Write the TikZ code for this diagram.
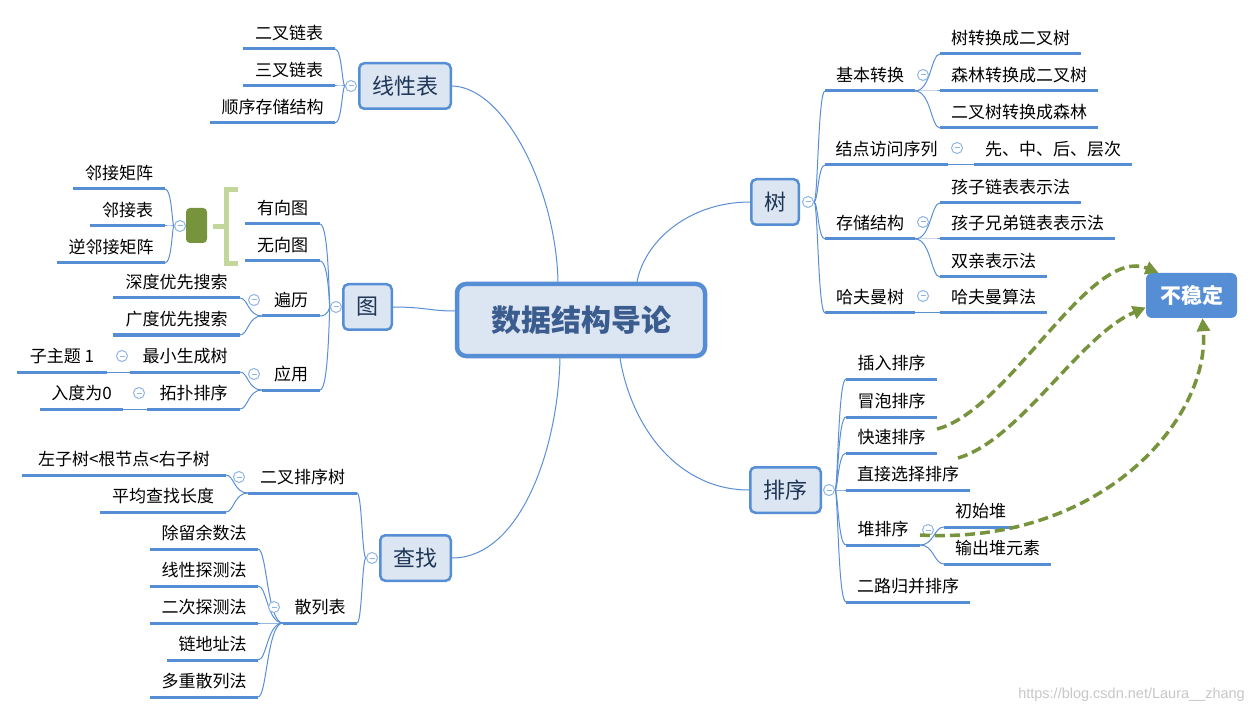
\documentclass[tikz,border=0pt]{standalone}
\usepackage{fontspec}
\setmainfont{Noto Sans CJK SC}
\newfontfamily\wmfont{Liberation Sans}
\usetikzlibrary{arrows.meta,calc}
\pgfdeclarelayer{bg}
\pgfdeclarelayer{paper}
\pgfsetlayers{paper,bg,main}
\definecolor{lineblue}{HTML}{5B8FD5}
\definecolor{ulblue}{HTML}{558ED5}
\definecolor{boxfill}{HTML}{DCE6F2}
\definecolor{navy}{HTML}{1F3556}
\definecolor{titleblue}{HTML}{3B5C8F}
\definecolor{olive}{HTML}{77933C}
\definecolor{lightgreen}{HTML}{C3D69B}
\definecolor{circblue}{HTML}{8EB4E3}
\tikzset{
  conn/.style={draw=lineblue, line width=1pt},
  uline/.style={draw=ulblue, line width=3pt},
  subtxt/.style={inner sep=0pt, font=\fontsize{17}{20}\selectfont, text=black},
  topicbox/.style={draw=ulblue, line width=2.5pt, fill=boxfill, rounded corners=5pt,
    inner sep=0pt, text=navy, font=\fontsize{22}{26}\selectfont, minimum height=45.5pt},
  colc/.style={circle, draw=circblue, fill=white, line width=1pt, minimum size=11pt, inner sep=0pt,
    path picture={\draw[circblue, line width=1pt] ([xshift=3pt]path picture bounding box.west) -- ([xshift=-3pt]path picture bounding box.east);}},
  unst/.style={draw=olive, line width=3.5pt, dash pattern=on 10pt off 5pt, -{Triangle[length=13pt,width=13pt]}},
}
% name, xL, xR, y(underline), text
\newcommand\subt[5]{%
  \coordinate (#1L) at (#2,-#4);
  \coordinate (#1R) at (#3,-#4);
  \draw[uline] (#1L) -- (#1R);
  \node[subtxt] (#1) at ({(#2+#3)/2},{16-#4}) {#5};
}
\newcommand\cc[3]{\node[colc] (#1) at (#2,-#3) {};}
\newcommand\lnk[3]{\draw[conn] (#1) .. controls (#1 -| #3) and (#2 -| #3) .. (#2);}
\begin{document}
\begin{tikzpicture}[x=1pt,y=1pt]
\useasboundingbox (0,0) rectangle (1254,-714);
\begin{pgfonlayer}{paper}
\fill[white] (0,0) rectangle (1254,-714);
\end{pgfonlayer}

% root and topics
\node[draw=ulblue, line width=4.5pt, fill=boxfill, rounded corners=9pt, minimum width=248pt,
  minimum height=72pt, inner sep=0pt, text=titleblue, font=\fontsize{30}{34}\selectfont\bfseries]
  (root) at (581,-320) {数据结构导论};
\node[topicbox, minimum width=91.5pt] (lin) at (405,-86) {线性表};
\node[topicbox, minimum width=48.5pt] (tu) at (367.5,-307) {图};
\node[topicbox, minimum width=70.5pt] (cz) at (415.5,-558) {查找};
\node[topicbox, minimum width=47.5pt] (shu) at (775,-202) {树};
\node[topicbox, minimum width=70.5pt] (px) at (785.5,-490) {排序};

% trunks
\coordinate (tLin) at (342,0);
\coordinate (tTu) at (329,0);
\coordinate (tSum) at (172,0);
\coordinate (tBl) at (248,0);
\coordinate (tCz) at (362,0);
\coordinate (tZ1) at (234,0);
\coordinate (tZ2) at (267,0);
\coordinate (tShu) at (818,0);
\coordinate (tS1) at (931,0);
\coordinate (tPx) at (838,0);
\coordinate (tP5) at (934,0);

% 线性表
\cc{cLin}{351}{86}
\subt{l1}{243}{335}{49}{二叉链表}
\subt{l2}{243}{335}{86}{三叉链表}
\subt{l3}{210}{335}{123}{顺序存储结构}

% 图
\cc{cTu}{336}{307}
\subt{t1}{245}{320}{224}{有向图}
\subt{t2}{245}{320}{261}{无向图}
\subt{t3}{262}{320}{316}{遍历}
\subt{t4}{262}{320}{390}{应用}
\node[fill=olive, rounded corners=4pt, minimum width=21pt, minimum height=35pt, inner sep=0pt] (sumg) at (196.5,-225.5) {};
\draw[lightgreen, line width=5pt] (238,-190) -- (226,-190) -- (226,-264) -- (238,-264);
\draw[lightgreen, line width=5pt] (226,-227) -- (213,-227);
\cc{cSum}{180}{226}
\subt{g1}{73}{165}{189}{邻接矩阵}
\subt{g2}{90}{165}{226}{邻接表}
\subt{g3}{57}{165}{263}{逆邻接矩阵}
\cc{cBl}{254}{300}
\subt{b1}{113}{240}{298}{深度优先搜索}
\subt{b2}{113}{240}{335}{广度优先搜索}
\cc{cYy}{254}{374}
\subt{y1}{130}{240}{372}{最小生成树}
\subt{y2}{147}{240}{409}{拓扑排序}
\cc{cY1}{122}{356}
\subt{y11}{17}{107}{372}{子主题 1}
\cc{cY2}{139}{393}
\subt{y21}{40}{123}{409}{入度为0}

% 查找
\cc{cCz}{372}{558}
\subt{z1}{248}{357}{493}{二叉排序树}
\subt{z2}{283}{357}{623}{散列表}
\cc{cZ1}{239}{477}
\subt{z11}{22}{226}{475}{左子树<根节点<右子树}
\subt{z12}{100}{226}{512}{平均查找长度}
\cc{cZ2}{274}{607}
\subt{z21}{150}{258}{549}{除留余数法}
\subt{z22}{150}{258}{586}{线性探测法}
\subt{z23}{150}{258}{623}{二次探测法}
\subt{z24}{167}{258}{660}{链地址法}
\subt{z25}{150}{258}{697}{多重散列法}

% 树
\cc{cShu}{808}{202}
\subt{s1}{825}{915}{91}{基本转换}
\subt{s2}{825}{948}{165}{结点访问序列}
\subt{s3}{825}{915}{239}{存储结构}
\subt{s4}{825}{915}{313}{哈夫曼树}
\cc{cS1}{923}{75}
\subt{s11}{940}{1081}{54}{树转换成二叉树}
\subt{s12}{940}{1098}{91}{森林转换成二叉树}
\subt{s13}{940}{1098}{128}{二叉树转换成森林}
\cc{cS2}{957}{148}
\subt{s21}{974}{1132}{165}{先、中、后、层次}
\cc{cS3}{923}{222}
\subt{s31}{940}{1081}{203}{孩子链表表示法}
\subt{s32}{940}{1115}{239}{孩子兄弟链表表示法}
\subt{s33}{940}{1047}{277}{双亲表示法}
\cc{cS4}{923}{296}
\subt{s41}{940}{1047}{313}{哈夫曼算法}

% 排序
\cc{cPx}{829}{490}
\subt{p1}{846}{937}{379}{插入排序}
\subt{p2}{846}{937}{417}{冒泡排序}
\subt{p3}{846}{937}{453}{快速排序}
\subt{p4}{846}{970}{490}{直接选择排序}
\subt{p5}{846}{920}{545}{堆排序}
\subt{p6}{846}{970}{602}{二路归并排序}
\cc{cP5}{928}{530}
\subt{p51}{944}{1017}{527}{初始堆}
\subt{p52}{944}{1051}{564}{输出堆元素}

% 不稳定
\node[fill=ulblue, rounded corners=6pt, minimum width=91pt, minimum height=45pt, inner sep=0pt,
  text=white, font=\fontsize{21}{24}\selectfont\bfseries] (bwd) at (1191.5,-295.5) {不稳定};

\node[anchor=east, text=black!22, font=\wmfont\fontsize{14.5}{16}\selectfont, inner sep=0pt]
  (wm) at (1245,-695) {https://blog.csdn.net/Laura\_\_zhang};

\begin{pgfonlayer}{bg}
% root to topics
\draw[conn] ([xshift=-23pt]root.north) .. controls (556,-190) and (505,-87) .. (lin.east);
\draw[conn] ([yshift=9pt]root.west) .. controls (430,-311) and (425,-307) .. (tu.east);
\draw[conn] ([xshift=-21pt]root.south) .. controls (558,-450) and (520,-558) .. (cz.east);
\draw[conn] ([xshift=56pt]root.north) .. controls (645,-240) and (690,-202) .. (shu.west);
\draw[conn] ([xshift=39pt]root.south) .. controls (632,-430) and (680,-490) .. (px.west);
% 线性表
\lnk{cLin.west}{l1R}{tLin}
\lnk{cLin.west}{l2R}{tLin}
\lnk{cLin.west}{l3R}{tLin}
% 图
\lnk{cTu.west}{t1R}{tTu}
\lnk{cTu.west}{t2R}{tTu}
\lnk{cTu.west}{t3R}{tTu}
\lnk{cTu.west}{t4R}{tTu}
\draw[conn] (sumg.west) -- (cSum.east);
\lnk{cSum.west}{g1R}{tSum}
\lnk{cSum.west}{g2R}{tSum}
\lnk{cSum.west}{g3R}{tSum}
\lnk{t3L}{b1R}{tBl}
\lnk{t3L}{b2R}{tBl}
\lnk{t4L}{y1R}{tBl}
\lnk{t4L}{y2R}{tBl}
\draw[conn] (y11R) -- (y1L);
\draw[conn] (y21R) -- (y2L);
% 查找
\lnk{cCz.west}{z1R}{tCz}
\lnk{cCz.west}{z2R}{tCz}
\lnk{z1L}{z11R}{tZ1}
\lnk{z1L}{z12R}{tZ1}
\lnk{z2L}{z21R}{tZ2}
\lnk{z2L}{z22R}{tZ2}
\lnk{z2L}{z23R}{tZ2}
\lnk{z2L}{z24R}{tZ2}
\lnk{z2L}{z25R}{tZ2}
% 树
\lnk{cShu.east}{s1L}{tShu}
\lnk{cShu.east}{s2L}{tShu}
\lnk{cShu.east}{s3L}{tShu}
\lnk{cShu.east}{s4L}{tShu}
\lnk{s1R}{s11L}{tS1}
\lnk{s1R}{s12L}{tS1}
\lnk{s1R}{s13L}{tS1}
\draw[conn] (s2R) -- (s21L);
\lnk{s3R}{s31L}{tS1}
\lnk{s3R}{s32L}{tS1}
\lnk{s3R}{s33L}{tS1}
\draw[conn] (s4R) -- (s41L);
% 排序
\lnk{cPx.east}{p1L}{tPx}
\lnk{cPx.east}{p2L}{tPx}
\lnk{cPx.east}{p3L}{tPx}
\lnk{cPx.east}{p4L}{tPx}
\lnk{cPx.east}{p5L}{tPx}
\lnk{cPx.east}{p6L}{tPx}
\lnk{p5R}{p51L}{tP5}
\lnk{p5R}{p52L}{tP5}
\end{pgfonlayer}

% unstable arrows
\draw[unst] ([yshift=24pt]p3R) .. controls (1010,-410) and (1090,-245) .. ([xshift=-33pt]bwd.north);
\draw[unst] ([xshift=-12pt,yshift=32pt]p4R) .. controls (1020,-440) and (1080,-335) .. ([yshift=-12pt]bwd.west);
\draw[unst] ([yshift=10pt]p5R) .. controls (1100,-545) and (1210,-420) .. ([xshift=11pt]bwd.south);
\end{tikzpicture}
\end{document}
